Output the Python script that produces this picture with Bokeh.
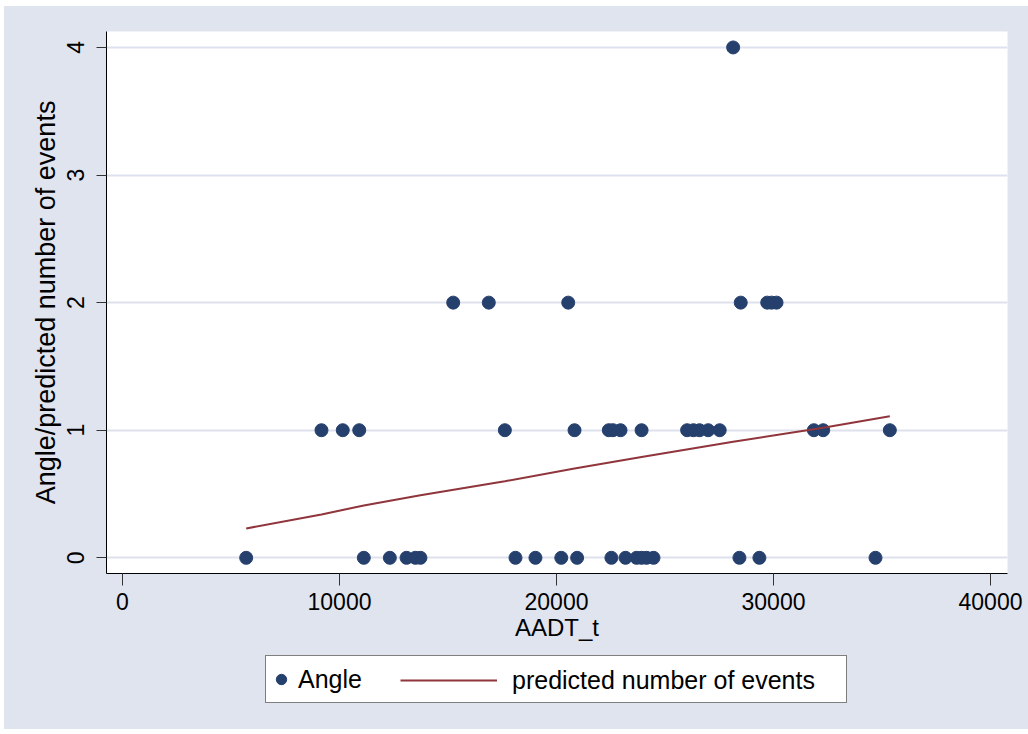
from bokeh.plotting import figure
from bokeh.layouts import column
from bokeh.models import Legend, LegendItem, Range1d, FixedTicker, NumeralTickFormatter
from bokeh.embed import file_html
from bokeh.resources import INLINE

# Observed angle crash counts per site against traffic volume
angle_aadt = [
    5700, 11120, 12320, 13090, 13500, 13730, 18110, 19030, 20220, 20950,
    22530, 23180, 23690, 23920, 24150, 24470, 28430, 29350, 34700,
    9170, 10150, 10910, 17620, 20830, 22410, 22600, 22950, 23920, 26020,
    26310, 26590, 26990, 27520, 31860, 32290, 35360,
    15240, 16880, 20540, 28490, 29710, 29910, 30140,
    28140,
]
angle_events = (
    [0] * 19
    + [1] * 17
    + [2] * 7
    + [4]
)

# Model prediction along the observed AADT range
pred_aadt = [5700, 9170, 11120, 13730, 17620, 20830, 23920, 28140, 32290, 35360]
pred_events = [0.23, 0.34, 0.41, 0.49, 0.60, 0.70, 0.79, 0.91, 1.02, 1.11]

x_ticks = [0, 10000, 20000, 30000, 40000]
y_ticks = [0, 1, 2, 3, 4]

FONT = "Liberation Sans"
REGION = "#E0E4EF"
NAVY = "#26406E"
MAROON = "#90353B"

p = figure(
    width=1024, height=646,
    output_backend="svg", toolbar_location=None,
    x_range=Range1d(-737, 40783), y_range=Range1d(-0.123, 4.125),
    min_border_left=102, min_border_right=21,
    min_border_top=25, min_border_bottom=79,
)
p.border_fill_color = REGION
p.background_fill_color = "white"
p.outline_line_color = None

# axes
for ax in (p.xaxis[0], p.yaxis[0]):
    ax.axis_line_color = "black"
    ax.axis_line_width = 1
    ax.major_tick_line_color = "#333333"
    ax.major_tick_in = 0
    ax.minor_tick_in = 0
    ax.minor_tick_out = 0
    ax.major_label_text_font = FONT
    ax.major_label_text_font_size = "23px"
    ax.major_label_text_color = "black"
    ax.axis_label_text_font = FONT
    ax.axis_label_text_font_style = "normal"
    ax.axis_label_text_color = "black"

p.xaxis.ticker = FixedTicker(ticks=x_ticks)
p.xaxis.formatter = NumeralTickFormatter(format="0")
p.xaxis.major_tick_out = 12
p.xaxis.major_label_standoff = 7
p.xaxis.axis_label = "AADT_t"
p.xaxis.axis_label_text_font_size = "24px"
p.xaxis.axis_label_standoff = 1

p.yaxis.ticker = FixedTicker(ticks=y_ticks)
p.yaxis.major_tick_out = 10
p.yaxis.major_label_orientation = "vertical"
p.yaxis.major_label_standoff = 12
p.yaxis.axis_label = "Angle/predicted number of events"
p.yaxis.axis_label_text_font_size = "27px"
p.yaxis.axis_label_standoff = 4

p.xgrid.visible = False
p.ygrid.ticker = FixedTicker(ticks=y_ticks)
p.ygrid.grid_line_color = "#DDE2EE"
p.ygrid.grid_line_width = 2

p.scatter(angle_aadt, angle_events, size=13, marker="circle",
          fill_color=NAVY, line_color=NAVY)
p.line(pred_aadt, pred_events, line_color=MAROON, line_width=2)

# legend strip under the plot; the series are repeated here outside the
# visible range so the legend can borrow their styles
key = figure(
    width=1024, height=77,
    output_backend="svg", toolbar_location=None,
    x_axis_type=None, y_axis_type=None,
    x_range=Range1d(0, 1), y_range=Range1d(0, 1),
    min_border=0,
)
key.border_fill_color = REGION
key.background_fill_alpha = 0
key.outline_line_color = None
key.grid.visible = False

key_pts = key.scatter(angle_aadt, angle_events, marker="circle",
                      fill_color=NAVY, line_color=NAVY)
key_fit = key.line(pred_aadt, pred_events, line_color=MAROON, line_width=2)

leg_box = Legend(
    items=[LegendItem(label="Angle", renderers=[key_pts])],
    location=(159, 26), orientation="horizontal",
    padding=2, margin=0, spacing=0,
    glyph_width=26, glyph_height=42, label_height=42, label_width=546,
    label_standoff=4,
    label_text_font=FONT, label_text_font_size="25px", label_text_color="black",
    border_line_color="black", border_line_width=1,
    background_fill_color="white", background_fill_alpha=1,
)
leg_line = Legend(
    items=[LegendItem(label="predicted number of events", renderers=[key_fit])],
    location=(290, 26), orientation="horizontal",
    padding=4, margin=0, spacing=0,
    glyph_width=97, glyph_height=38, label_height=38,
    label_standoff=15,
    label_text_font=FONT, label_text_font_size="25px", label_text_color="black",
    border_line_alpha=0, background_fill_alpha=0,
)
key.add_layout(leg_box, "center")
key.add_layout(leg_line, "center")

page = column(p, key, spacing=0, styles={"background-color": REGION})
page.margin = (6, 0, 0, 4)
open("out.html", "w").write(file_html(page, INLINE))
